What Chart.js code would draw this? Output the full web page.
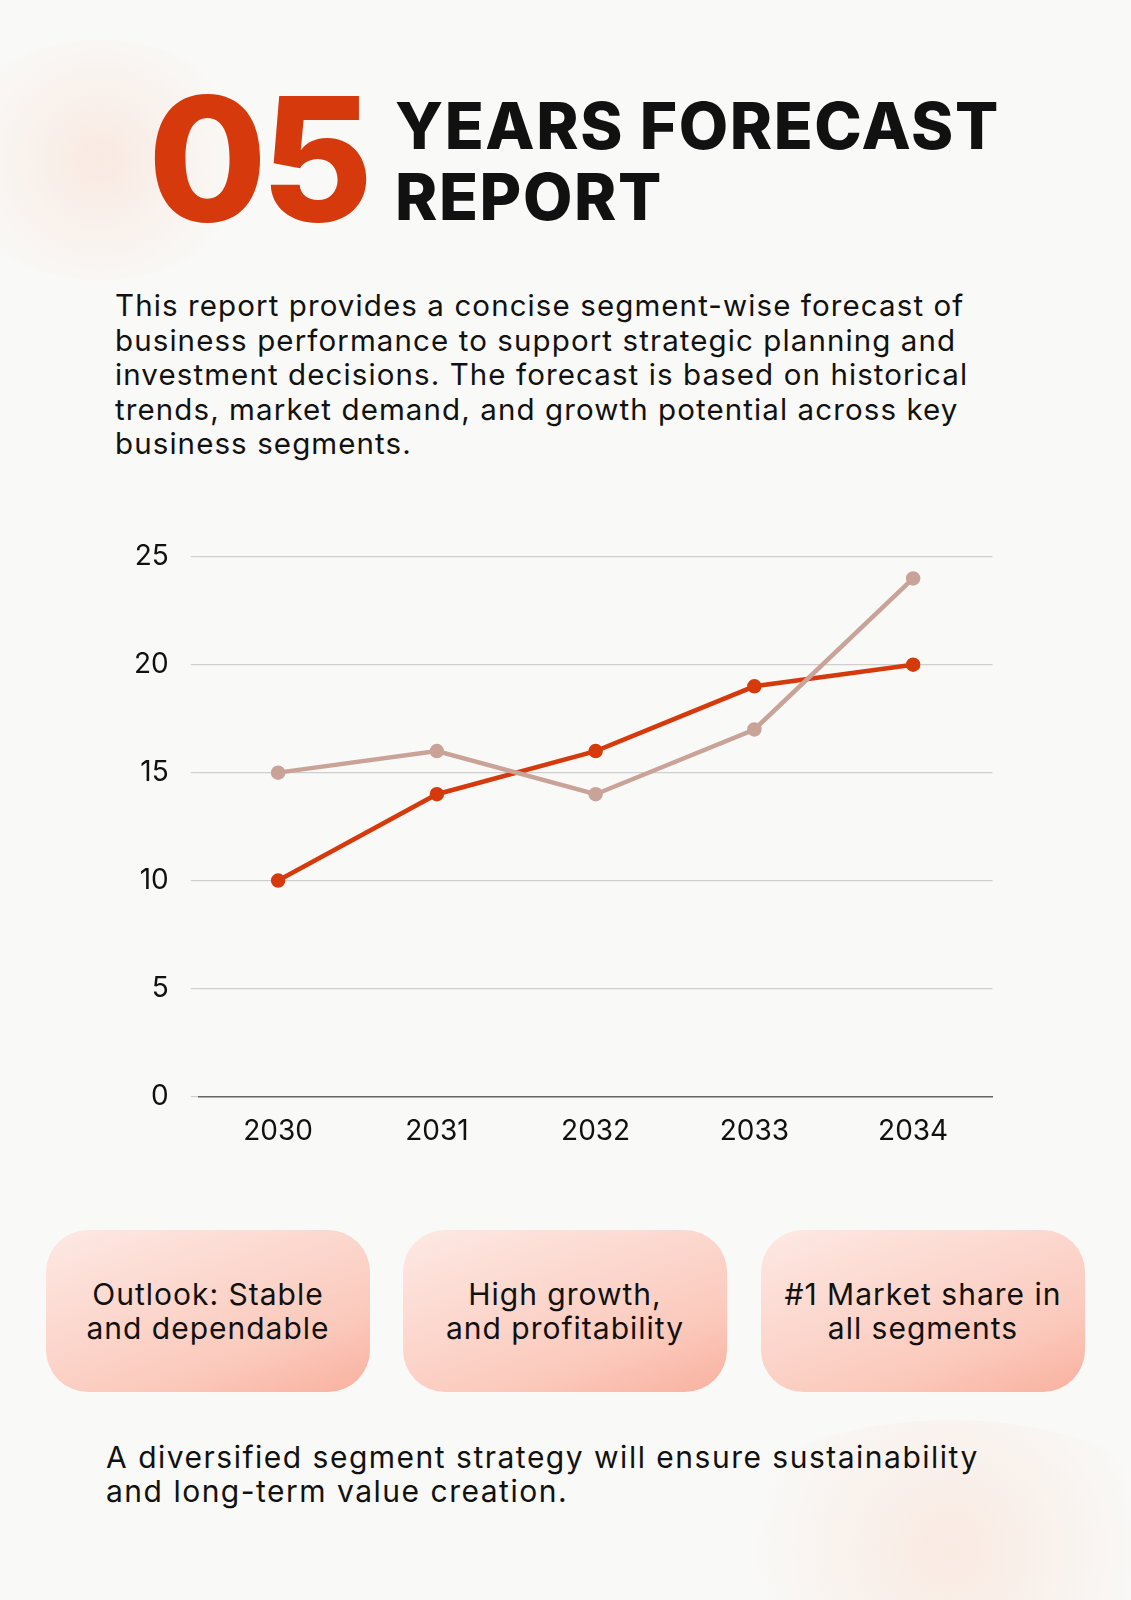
<!DOCTYPE html>
<html>
<head>
<meta charset="utf-8">
<script src="https://cdn.jsdelivr.net/npm/chart.js@4"></script>
<style>
  body { margin:0; width:1131px; height:1600px; background:#f9f9f7; font-family:"Inter","Noto Sans",sans-serif; position:relative; overflow:hidden; }
  .blob1 { position:absolute; left:-60px; top:40px; width:320px; height:240px; border-radius:50%; background:radial-gradient(circle, rgba(250,215,200,0.45), rgba(250,230,220,0) 70%); }
  .blob2 { position:absolute; left:700px; top:1420px; width:500px; height:260px; border-radius:50%; background:radial-gradient(circle, rgba(250,215,200,0.45), rgba(250,230,220,0) 70%); }
  .big { position:absolute; left:148px; top:72px; font-size:172px; font-weight:800; color:#d63a0c; letter-spacing:-6px; line-height:1; }
  .title { position:absolute; left:395px; top:90px; font-size:64px; font-weight:800; color:#111; line-height:71px; letter-spacing:1.6px; }
  .para { position:absolute; left:115px; top:288px; width:920px; font-size:29.5px; line-height:34.5px; color:#111; letter-spacing:1.1px; }
  .chart { position:absolute; left:112px; top:518px; width:890px; height:640px; }
  .box { position:absolute; top:1230px; width:324px; height:162px; border-radius:42px; background:linear-gradient(160deg, #fde9e4 0%, #fbcabd 70%, #f9b19f 100%); display:flex; align-items:center; justify-content:center; text-align:center; font-size:30px; line-height:34px; color:#111; letter-spacing:1px; }
  .foot { position:absolute; left:106px; top:1440px; font-size:30px; line-height:34px; color:#111; letter-spacing:1.5px; }
</style>
</head>
<body>
<div class="blob1"></div>
<div class="blob2"></div>
<div class="big">05</div>
<div class="title">YEARS FORECAST<br>REPORT</div>
<div class="para">This report provides a concise segment-wise forecast of business performance to support strategic planning and investment decisions. The forecast is based on historical trends, market demand, and growth potential across key business segments.</div>
<div class="chart"><canvas id="graph"></canvas></div>
<div class="box" style="left:46px">Outlook: Stable<br>and dependable</div>
<div class="box" style="left:403px">High growth,<br>and profitability</div>
<div class="box" style="left:761px">#1 Market share in<br>all segments</div>
<div class="foot">A diversified segment strategy will ensure sustainability<br>and long-term value creation.</div>
<script>
var years = ["2030", "2031", "2032", "2033", "2034"];
var seriesA = [10, 14, 16, 19, 20];
var seriesB = [15, 16, 14, 17, 24];
var yTicks = [0, 5, 10, 15, 20, 25];

var ctx = document.getElementById("graph").getContext("2d");
new Chart(ctx, {
    type: "line",
    data: {
        labels: years,
        datasets: [
            { data: seriesB, borderColor: "#c9a397", backgroundColor: "#c9a397", borderWidth: 4.5, pointRadius: 5, tension: 0 },
            { data: seriesA, borderColor: "#d63a0c", backgroundColor: "#d63a0c", borderWidth: 4.5, pointRadius: 5, tension: 0 }
        ]
    },
    options: {
        responsive: true,
        maintainAspectRatio: false,
        animation: false,
        plugins: { legend: { display: false }, tooltip: { enabled: false } },
        layout: { padding: { top: 10, right: 0 } },
        scales: {
            x: {
                offset: true,
                grid: { display: false },
                border: { color: "#666", width: 1.5 },
                ticks: { color: "#111", font: { size: 28, family: "Inter" }, padding: 10 }
            },
            y: {
                min: 0, max: 25,
                afterBuildTicks: function (axis) { axis.ticks = yTicks.map(function (v) { return { value: v }; }); },
                grid: { color: "#cfcfcf", lineWidth: 1.2 },
                border: { display: false },
                ticks: { color: "#111", font: { size: 28, family: "Inter" }, padding: 22 }
            }
        }
    }
});
</script>
</body>
</html>
